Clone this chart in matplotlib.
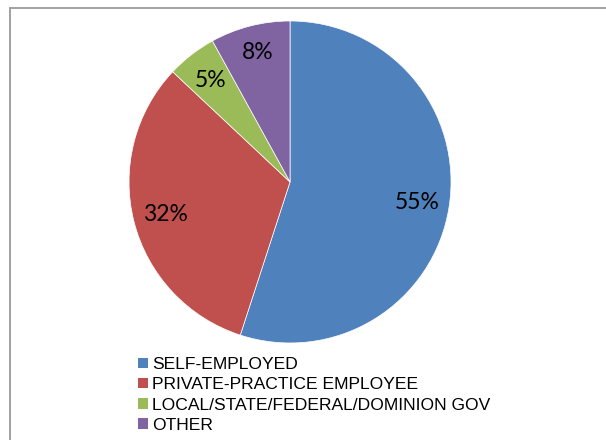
import matplotlib.pyplot as plt
from matplotlib.patches import Patch, Rectangle

# Data
categories = ['SELF-EMPLOYED', 'PRIVATE-PRACTICE EMPLOYEE',
              'LOCAL/STATE/FEDERAL/DOMINION GOV', 'OTHER']
shares = [55, 32, 5, 8]
colors = ['#4F81BD', '#C0504D', '#9BBB59', '#8064A2']

fig = plt.figure(figsize=(6.06, 4.4), dpi=100)

# outer chart border (only left/top visible in crop)
fig.patches.append(Rectangle((10 / 606, -0.1), 1.2, 1 - 8 / 440 + 0.1,
                             transform=fig.transFigure, fill=False,
                             edgecolor='#9a9a9a', linewidth=1.3))

ax = fig.add_axes([0.2129, 0.2205, 0.5314, 0.7318])
wedges, texts, autotexts = ax.pie(
    shares, colors=colors, startangle=90, counterclock=False,
    autopct='%d%%', pctdistance=0.8,
    wedgeprops=dict(edgecolor='white', linewidth=0.5),
    textprops=dict(fontsize=16.5, family='Lato', color='black'))
# small nudge of the 8% label, like Excel's best fit
x8, y8 = autotexts[3].get_position()
autotexts[3].set_position((x8 * 1.02, y8 * 1.04))
ax.set_xlim(-1, 1)
ax.set_ylim(-1, 1)
ax.set_aspect('equal')

handles = [Patch(facecolor=c, edgecolor='none') for c in colors]
fig.legend(handles, categories, loc='upper left',
           bbox_to_anchor=(138 / 606, 1 - 357 / 440), frameon=False,
           borderpad=0, borderaxespad=0, handlelength=0.55, handleheight=0.55,
           handletextpad=0.25, labelspacing=0.3,
           prop=dict(family='Liberation Sans', size=12.6))

plt.savefig('out.png', dpi=100)
